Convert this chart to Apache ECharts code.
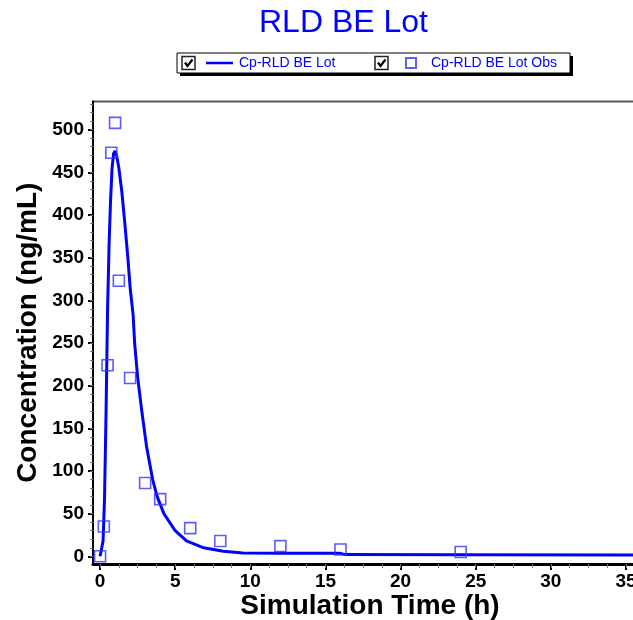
<!DOCTYPE html>
<html>
<head>
<meta charset="utf-8">
<script src="https://cdn.jsdelivr.net/npm/echarts@6/dist/echarts.min.js"></script>
<style>html,body{margin:0;padding:0;background:#fff}#c{width:633px;height:620px}</style>
</head>
<body>
<div id="c"></div>
<script>
// ---- data ----
var obsTime = [0, 0.25, 0.5, 0.75, 1, 1.25, 2, 3, 4, 6, 8, 12, 16, 24];
var obsConc = [0, 35, 224, 473, 508, 323, 209, 86, 67, 33, 18, 12, 8, 5];
var simTime = [0, 0.1, 0.2, 0.3, 0.4, 0.5, 0.6, 0.7, 0.8, 0.9, 1.0, 1.1, 1.25, 1.45, 1.65, 1.85, 2.0, 2.2, 2.3, 2.5, 2.8, 3.1, 3.5, 3.8, 4.25, 5.0, 5.75, 6.9, 8.2, 9.5, 12, 16, 16.3, 24, 40];
var simConc = [0, 2, 18, 70, 170, 290, 365, 418, 455, 472, 475, 470, 455, 427, 390, 350, 315, 283, 250, 210, 167, 128, 90, 70, 50, 30, 18, 10, 6, 4, 3.5, 3.5, 2, 1.8, 1.5];
var xTicks = [0, 5, 10, 15, 20, 25, 30, 35];
var yTicks = [0, 50, 100, 150, 200, 250, 300, 350, 400, 450, 500];
var titleText = 'RLD BE Lot';
var lineName = 'Cp-RLD BE Lot';
var obsName = 'Cp-RLD BE Lot Obs';

var xMinor = [], yMinor = [];
for (var i = 0; i <= 29; i++) xMinor.push(i * 1.25);
for (var j = 0; j <= 53; j++) yMinor.push(j * 10);

var X_MIN = -0.47, X_MAX = 36.4, Y_MIN = -9, Y_MAX = 533;
var FONT = 'Liberation Sans, Arial, sans-serif';

var chart = echarts.init(document.getElementById('c'), null, {renderer: 'canvas'});

function pair(a, b) { return a.map(function (v, k) { return [v, b[k]]; }); }

var commonX = {type: 'value', min: X_MIN, max: X_MAX, gridIndex: 0, splitLine: {show: false}};
var commonY = {type: 'value', min: Y_MIN, max: Y_MAX, gridIndex: 0, splitLine: {show: false}};

function checkbox(x, y) {
  return [
    {type: 'rect', shape: {x: x, y: y, width: 13, height: 13}, style: {fill: '#fff', stroke: '#222', lineWidth: 1.5}, z: 20},
    {type: 'polyline', shape: {points: [[x + 3, y + 6], [x + 5.5, y + 9.5], [x + 10.5, y + 3]]}, style: {stroke: '#000', lineWidth: 2.2, fill: null}, z: 21}
  ];
}

var option = {
  animation: false,
  backgroundColor: '#fff',
  title: {
    text: titleText, left: 254, top: 2,
    textStyle: {fontFamily: FONT, fontSize: 32, fontWeight: 'normal', color: '#0000ff'}
  },
  legend: [
    {
      data: [{name: lineName, icon: 'rect'}], left: 206, top: 56, padding: 0,
      itemWidth: 27, itemHeight: 2.5, selectedMode: false,
      textStyle: {fontFamily: FONT, fontSize: 14, color: '#0000ff', padding: [0, 0, 0, 1]}
    },
    {
      data: [obsName], left: 405, top: 56, padding: 0,
      itemWidth: 10, itemHeight: 10, icon: 'rect', selectedMode: false,
      textStyle: {fontFamily: FONT, fontSize: 14, color: '#0000ff', padding: [0, 0, 0, 10]}
    }
  ],
  graphic: [
    {type: 'rect', shape: {x: 180, y: 56, width: 393, height: 20}, style: {fill: '#000'}, z: 0},
    {type: 'rect', shape: {x: 177, y: 53, width: 393, height: 20}, style: {fill: '#fff', stroke: '#000', lineWidth: 1}, z: 1}
  ].concat(checkbox(182, 56.5)).concat(checkbox(375, 56.5)),
  grid: {
    left: 93, top: 101.5, right: -14, bottom: 56,
    containLabel: false, outerBoundsMode: 'none',
    show: true, borderColor: '#555', borderWidth: 2, backgroundColor: '#fff'
  },
  xAxis: [
    Object.assign({}, commonX, {
      position: 'bottom',
      name: 'Simulation Time (h)', nameLocation: 'middle', nameGap: 28, nameMoveOverlap: false,
      nameTextStyle: {fontFamily: FONT, fontSize: 28, fontWeight: 'bold', color: '#000'},
      axisLine: {show: true, onZero: false, lineStyle: {color: '#000', width: 3}},
      axisTick: {show: true, inside: false, length: 6, customValues: xTicks, lineStyle: {color: '#000', width: 2}},
      axisLabel: {show: true, margin: 8, customValues: xTicks, fontFamily: FONT, fontSize: 19, fontWeight: 'bold', color: '#000'}
    }),
    Object.assign({}, commonX, {
      position: 'bottom',
      axisLine: {show: false, onZero: false},
      axisTick: {show: true, inside: false, length: 4, customValues: xMinor, lineStyle: {color: '#777', width: 1}},
      axisLabel: {show: false}
    })
  ],
  yAxis: [
    Object.assign({}, commonY, {
      position: 'left',
      name: 'Concentration (ng/mL)', nameLocation: 'middle', nameGap: 51, nameMoveOverlap: false,
      nameTextStyle: {fontFamily: FONT, fontSize: 28, fontWeight: 'bold', color: '#000'},
      axisLine: {show: true, onZero: false, lineStyle: {color: '#000', width: 2}},
      axisTick: {show: true, inside: false, length: 5, customValues: yTicks, lineStyle: {color: '#000', width: 2}},
      axisLabel: {show: true, margin: 9, customValues: yTicks, fontFamily: FONT, fontSize: 19, fontWeight: 'bold', color: '#000'}
    }),
    Object.assign({}, commonY, {
      position: 'left',
      axisLine: {show: false, onZero: false},
      axisTick: {show: true, inside: false, length: 3, customValues: yMinor, lineStyle: {color: '#777', width: 1}},
      axisLabel: {show: false}
    })
  ],
  series: [
    {
      name: lineName, type: 'line', xAxisIndex: 0, yAxisIndex: 0,
      data: pair(simTime, simConc), showSymbol: false, symbol: 'none',
      lineStyle: {color: '#0000ff', width: 3}, itemStyle: {color: '#0000ff'},
      clip: true, z: 3
    },
    {
      name: obsName, type: 'scatter', xAxisIndex: 0, yAxisIndex: 0,
      data: pair(obsTime, obsConc), symbol: 'rect', symbolSize: 11,
      itemStyle: {color: 'rgba(255,255,255,0)', borderColor: '#3333ff', borderWidth: 1.6},
      clip: false, z: 4
    }
  ]
};
chart.setOption(option);
</script>
</body>
</html>
